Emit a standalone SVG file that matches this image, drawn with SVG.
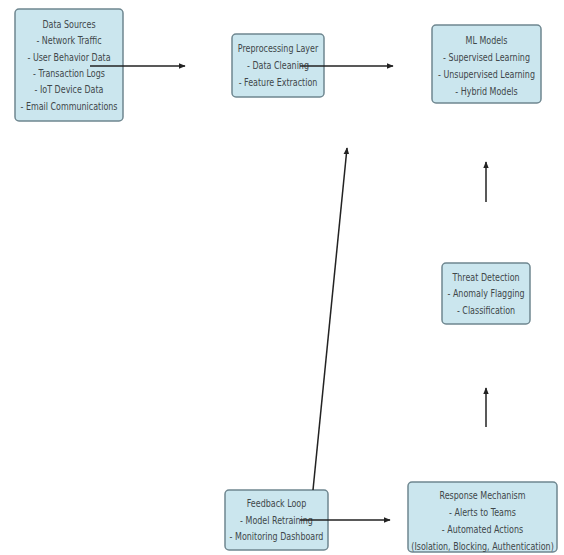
<svg xmlns="http://www.w3.org/2000/svg" width="564" height="555" viewBox="0 0 564 555">
<defs>
<style>
.box{fill:#cbe6ee;stroke:#6f8790;stroke-width:1.5}
.t{font-family:"DejaVu Sans",sans-serif;font-size:10.5px;fill:#40474a;text-anchor:middle;dominant-baseline:central}
.e{stroke:#222;stroke-width:1.5;fill:none}
</style>
<marker id="ah" viewBox="0 0 10 10" refX="9" refY="5" markerWidth="7" markerHeight="7" orient="auto" markerUnits="userSpaceOnUse">
<path d="M0,1 L10,5 L0,9 Z" fill="#222"/>
</marker>
</defs>
<rect width="564" height="555" fill="#fff"/>
<g id="data-sources">
<rect class="box" x="15" y="9" width="108" height="112" rx="4"/>
<g transform="translate(69,0) scale(0.76,1)">
<text class="t" x="0" y="24">Data Sources</text>
<text class="t" x="0" y="40.5">- Network Traffic</text>
<text class="t" x="0" y="57">- User Behavior Data</text>
<text class="t" x="0" y="73">- Transaction Logs</text>
<text class="t" x="0" y="89.5">- IoT Device Data</text>
<text class="t" x="0" y="106">- Email Communications</text>
</g>
</g>
<g id="preprocessing">
<rect class="box" x="232" y="34" width="92" height="63" rx="4"/>
<g transform="translate(278,0) scale(0.76,1)">
<text class="t" x="0" y="48.5">Preprocessing Layer</text>
<text class="t" x="0" y="65.5">- Data Cleaning</text>
<text class="t" x="0" y="82.5">- Feature Extraction</text>
</g>
</g>
<g id="ml-models">
<rect class="box" x="432" y="25" width="109" height="78" rx="4"/>
<g transform="translate(486.5,0) scale(0.76,1)">
<text class="t" x="0" y="40">ML Models</text>
<text class="t" x="0" y="57">- Supervised Learning</text>
<text class="t" x="0" y="74">- Unsupervised Learning</text>
<text class="t" x="0" y="91">- Hybrid Models</text>
</g>
</g>
<g id="threat-detection">
<rect class="box" x="442" y="263" width="88" height="61" rx="4"/>
<g transform="translate(486,0) scale(0.76,1)">
<text class="t" x="0" y="277">Threat Detection</text>
<text class="t" x="0" y="293.5">- Anomaly Flagging</text>
<text class="t" x="0" y="310">- Classification</text>
</g>
</g>
<g id="feedback-loop">
<rect class="box" x="225" y="490" width="103" height="60" rx="4"/>
<g transform="translate(276.5,0) scale(0.76,1)">
<text class="t" x="0" y="503.5">Feedback Loop</text>
<text class="t" x="0" y="520">- Model Retraining</text>
<text class="t" x="0" y="536.5">- Monitoring Dashboard</text>
</g>
</g>
<g id="response-mechanism">
<rect class="box" x="408" y="482" width="149" height="70" rx="4"/>
<g transform="translate(482.5,0) scale(0.76,1)">
<text class="t" x="0" y="495.5">Response Mechanism</text>
<text class="t" x="0" y="512.5">- Alerts to Teams</text>
<text class="t" x="0" y="529.5">- Automated Actions</text>
<text class="t" x="0" y="546">(Isolation, Blocking, Authentication)</text>
</g>
</g>
<g id="connectors">
<line class="e" x1="90" y1="66" x2="185" y2="66" marker-end="url(#ah)"/>
<line class="e" x1="300" y1="66" x2="393" y2="66" marker-end="url(#ah)"/>
<line class="e" x1="486" y1="202" x2="486" y2="162" marker-end="url(#ah)"/>
<line class="e" x1="486" y1="427" x2="486" y2="388" marker-end="url(#ah)"/>
<line class="e" x1="300" y1="520" x2="390" y2="520" marker-end="url(#ah)"/>
<line class="e" x1="313" y1="490" x2="347" y2="148" marker-end="url(#ah)"/>
</g>
</svg>
